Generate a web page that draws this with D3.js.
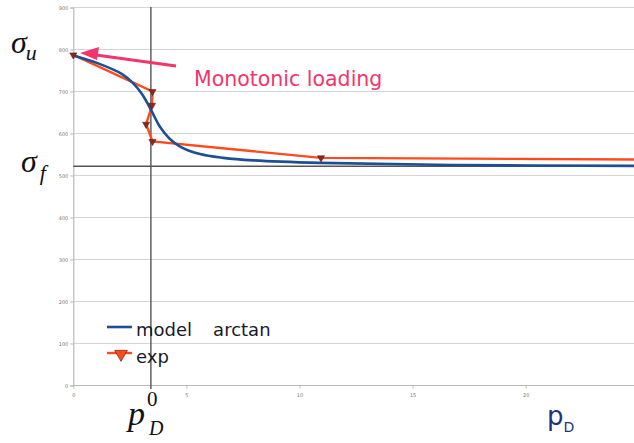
<!DOCTYPE html>
<html><head><meta charset="utf-8">
<script src="https://cdn.jsdelivr.net/npm/d3@7"></script>
<style>html,body{margin:0;padding:0;background:#fff;}svg{display:block;}</style>
</head><body>
<svg id="c" width="634" height="443"></svg>
<script>
// ---- data ----
const yTicks = [0,100,200,300,400,500,600,700,800,900];
const xTicks = [0,5,10,15,20];
const modelX = [0, 1.1, 2.14, 2.64, 3.02, 3.43, 3.83, 4.27, 4.72, 5.6, 6.63, 7.96, 10.9, 16.7, 25];
const modelY = [786, 767, 742, 720, 695, 657, 616, 587, 569, 551, 542, 536, 530, 525, 523];
const expX = [0, 3.5, 3.48, 3.22, 3.5, 10.95, 25];
const expY = [787, 700, 667, 622, 581, 542, 538];
const sigmaF = 522;
const pD0 = 3.43;
const legendNames = ["model   arctan", "exp"];
const annotation = "Monotonic loading";

const svg = d3.select("#c");
const x = d3.scaleLinear().domain([0,25]).range([73.3, 73.3+25*22.62]);
const y = d3.scaleLinear().domain([0,900]).range([385.5, 7.5]);
const W = 634;

// gridlines
svg.append("g").selectAll("line").data(yTicks.filter(d=>d>0)).join("line")
  .attr("x1", x(0)).attr("x2", W).attr("y1", d=>y(d)).attr("y2", d=>y(d))
  .attr("stroke", "#d4d4d4").attr("stroke-width", 1.2);

// axes
const yAxis = d3.axisLeft(y).tickValues(yTicks).tickSize(3).tickPadding(2);
const gy = svg.append("g").attr("transform", `translate(${x(0)},0)`).call(yAxis);
const xAxis = d3.axisBottom(x).tickValues(xTicks).tickSize(3).tickPadding(5);
const gx = svg.append("g").attr("transform", `translate(0,${y(0)})`).call(xAxis);
gx.select(".domain").attr("d", `M${x(0)},0H${W}`);
[gx, gy].forEach(g => {
  g.select(".domain").attr("stroke", "#b8b8b8").attr("stroke-width", 1.2);
  g.selectAll(".tick line").attr("stroke", "#b8b8b8");
  g.selectAll(".tick text").attr("font-family", "DejaVu Sans").attr("font-size", 5).attr("fill", "#777");
});

// sigma_f line and p_D^0 line
svg.append("line").attr("x1", x(0)).attr("x2", W).attr("y1", y(sigmaF)).attr("y2", y(sigmaF))
  .attr("stroke", "#555").attr("stroke-width", 1.4);
svg.append("line").attr("x1", x(pD0)).attr("x2", x(pD0)).attr("y1", 7).attr("y2", 389)
  .attr("stroke", "#555").attr("stroke-width", 1.4);

// series
svg.append("defs").append("clipPath").attr("id","clip").append("rect")
  .attr("x", 0).attr("y", 0).attr("width", W).attr("height", 443);
const plot = svg.append("g").attr("clip-path", "url(#clip)");

const expData = expX.map((v,i)=>[v, expY[i]]);
const modelData = modelX.map((v,i)=>[v, modelY[i]]);

plot.append("path").datum(expData)
  .attr("d", d3.line().x(d=>x(d[0])).y(d=>y(d[1])))
  .attr("fill", "none").attr("stroke", "#ff4a1c").attr("stroke-width", 2.4);
plot.append("path").datum(modelData)
  .attr("d", d3.line().curve(d3.curveCatmullRom.alpha(0.5)).x(d=>x(d[0])).y(d=>y(d[1])))
  .attr("fill", "none").attr("stroke", "#1d4f96").attr("stroke-width", 2.6);

const tri = d3.symbol().type(d3.symbolTriangle).size(22);
plot.append("g").selectAll("path").data(expData.slice(0, 6)).join("path")
  .attr("d", tri).attr("transform", d=>`translate(${x(d[0])},${y(d[1])}) rotate(180)`)
  .attr("fill", "#8a2a1a").attr("stroke", "#6a1a10").attr("stroke-width", 0.6);

// legend
const lg = svg.append("g");
lg.append("line").attr("x1", 107).attr("x2", 132).attr("y1", 327).attr("y2", 327)
  .attr("stroke", "#1d4f96").attr("stroke-width", 2.6);
lg.append("text").attr("x", 136).attr("y", 336).text(legendNames[0])
  .attr("font-family", "DejaVu Sans").attr("font-size", 18).attr("fill", "#1a1a2a")
  .attr("word-spacing", 1.3).style("white-space", "pre");
lg.append("line").attr("x1", 107).attr("x2", 132).attr("y1", 353).attr("y2", 353)
  .attr("stroke", "#ff4a1c").attr("stroke-width", 2.4);
lg.append("path").attr("d", d3.symbol().type(d3.symbolTriangle).size(70))
  .attr("transform", "translate(121,354) rotate(180)")
  .attr("fill", "#ff4a1c").attr("stroke", "#8a2a1a").attr("stroke-width", 0.8);
lg.append("text").attr("x", 136).attr("y", 363).text(legendNames[1])
  .attr("font-family", "DejaVu Sans").attr("font-size", 18).attr("fill", "#1a1a2a");

// annotation arrow and text
const pink = "#f2356c";
svg.append("line").attr("x1", 176).attr("y1", 66).attr("x2", 96).attr("y2", 55)
  .attr("stroke", pink).attr("stroke-width", 3);
svg.append("path").attr("d", "M80,53 L99,47 L97,60 Z").attr("fill", pink);
svg.append("text").attr("x", 194).attr("y", 86).text(annotation)
  .attr("font-family", "DejaVu Sans").attr("font-size", 20.5).attr("fill", pink);

// math labels
let t1 = svg.append("text").attr("x", 11).attr("y", 53).attr("font-family", "Liberation Serif").attr("font-style","italic").attr("fill","#111");
t1.append("tspan").attr("font-size", 32).text("σ");
t1.append("tspan").attr("font-size", 22).attr("dy", 7).attr("dx", -1).text("u");
let t2 = svg.append("text").attr("x", 21).attr("y", 172).attr("font-family", "Liberation Serif").attr("font-style","italic").attr("fill","#111");
t2.append("tspan").attr("font-size", 32).text("σ");
t2.append("tspan").attr("font-size", 22).attr("dy", 8).attr("dx", 3).text("f");
svg.append("text").attr("x", 128).attr("y", 425).attr("font-family", "Liberation Serif").attr("font-style","italic")
  .attr("font-size", 34).attr("fill","#111").text("p");
svg.append("text").attr("x", 147).attr("y", 406).attr("font-family", "Liberation Serif").attr("font-size", 21).attr("fill","#111").text("0");
svg.append("text").attr("x", 149).attr("y", 435).attr("font-family", "Liberation Serif").attr("font-style","italic").attr("font-size", 20).attr("fill","#111").text("D");
let t4 = svg.append("text").attr("x", 547).attr("y", 425).attr("font-family", "DejaVu Sans").attr("fill","#22327a");
t4.append("tspan").attr("font-size", 26).text("p");
t4.append("tspan").attr("font-size", 14).attr("dy", 7).text("D");
</script>
</body></html>
